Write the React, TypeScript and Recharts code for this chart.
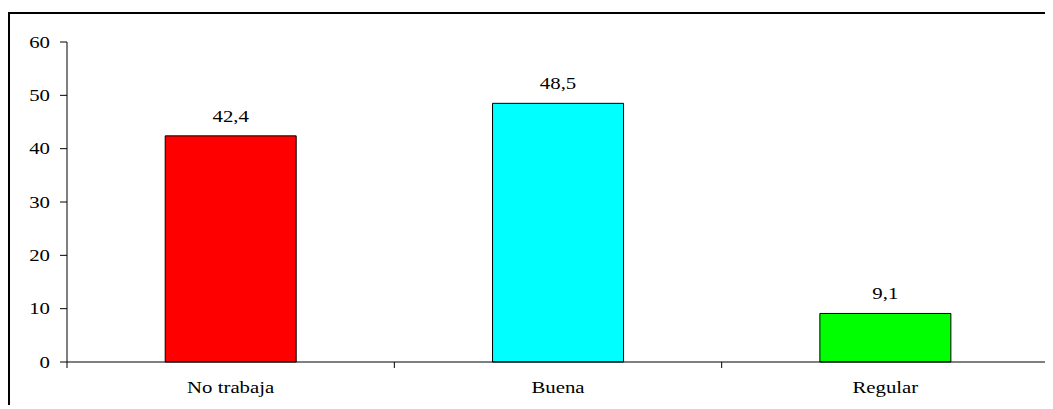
import { BarChart, Bar, XAxis, YAxis, Cell, LabelList } from 'recharts'

const categories = ['No trabaja', 'Buena', 'Regular']
const values = [42.4, 48.5, 9.1]
const barColors = ['#ff0000', '#00ffff', '#00ff00']
const yTicks = [0, 10, 20, 30, 40, 50, 60]

const data = categories.map((name, i) => ({ name, value: values[i] }))

const textStyle = { fontFamily: '"Liberation Serif", "DejaVu Serif", serif', fontSize: 16 }
const stretch = 1.3

const fmt = (v: number) => v.toFixed(1).replace('.', ',')

function YTick(props: any) {
  const { x, y, payload } = props
  return (
    <text transform={`translate(${x},${y}) scale(${stretch},1)`} textAnchor="end" dy="0.35em" style={textStyle} fill="#000">
      {payload.value}
    </text>
  )
}

function XTick(props: any) {
  const { x, y, payload, index, visibleTicksCount, width } = props
  const half = payload.offset ?? width / visibleTicksCount / 2
  return (
    <g>
      <line x1={x - half} x2={x - half} y1={y} y2={y + 6} stroke="#000" />
      {index === visibleTicksCount - 1 && <line x1={x + half} x2={x + half} y1={y} y2={y + 6} stroke="#000" />}
      <text transform={`translate(${x},${y + 31}) scale(${stretch},1)`} textAnchor="middle" style={textStyle} fill="#000">
        {payload.value}
      </text>
    </g>
  )
}

function ValueLabel(props: any) {
  const { x, y, width, value } = props
  return (
    <text transform={`translate(${x + width / 2},${y - 14}) scale(${stretch},1)`} textAnchor="middle" style={textStyle} fill="#000">
      {fmt(value)}
    </text>
  )
}

export default function App() {
  return (
    <div style={{ position: 'relative', width: 1045, height: 397, overflow: 'hidden' }}>
      <div style={{ position: 'absolute', top: 4, left: 0, width: 1100, height: 450, border: '2px solid #000' }} />
      <div style={{ position: 'absolute', top: 0, left: 0 }}>
        <BarChart width={1045} height={397} data={data} margin={{ top: 34, right: 4, left: 0, bottom: 13 }} barCategoryGap="30%">
          <YAxis
            width={59}
            domain={[0, 60]}
            ticks={yTicks}
            interval={0}
            tickSize={7}
            tickMargin={10}
            axisLine={{ stroke: '#000' }}
            tickLine={{ stroke: '#000' }}
            tick={<YTick />}
          />
          <XAxis
            dataKey="name"
            height={30}
            interval={0}
            tickSize={0}
            tickMargin={0}
            tickLine={false}
            axisLine={{ stroke: '#000' }}
            tick={<XTick />}
          />
          <Bar dataKey="value" stroke="#000" strokeWidth={1} isAnimationActive={false}>
            {data.map((d, i) => (
              <Cell key={d.name} fill={barColors[i]} />
            ))}
            <LabelList dataKey="value" content={<ValueLabel />} />
          </Bar>
        </BarChart>
      </div>
    </div>
  )
}
